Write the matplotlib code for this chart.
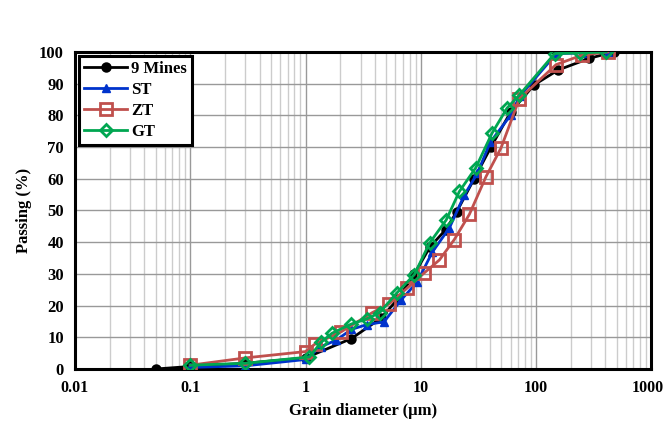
import matplotlib
matplotlib.use("Agg")
import matplotlib.pyplot as plt
import matplotlib.transforms as mtransforms
from matplotlib.ticker import LogLocator, FixedLocator, NullFormatter

plt.rcParams['font.family'] = ['Liberation Serif', 'DejaVu Serif']
plt.rcParams['font.weight'] = 'bold'

mines_x = [0.05, 0.1, 0.3, 1.0, 2.5, 4.5, 6.3, 8.8, 12, 16.5, 20.5, 29, 40.6, 60, 96, 155, 290, 470]
mines_y = [0, 0.8, 1.8, 3.5, 9.6, 16, 22, 30, 38.5, 44, 49.6, 60, 70, 81, 89.6, 94.3, 98, 100]

st_x = [0.1, 0.3, 1.0, 1.35, 1.85, 2.5, 3.4, 4.8, 6.75, 9.3, 12.6, 17.7, 23.9, 31, 40, 60, 72, 150, 250, 420]
st_y = [0.5, 1.0, 3.0, 7.0, 9.1, 12.5, 14.0, 14.9, 21.8, 27.4, 36.9, 44.5, 54.9, 61.8, 71.5, 80, 86, 99.5, 99.7, 100]

zt_x = [0.1, 0.3, 1.0, 1.2, 2.05, 3.8, 5.3, 7.6, 10.7, 14.5, 19.5, 26.4, 36.8, 49.6, 71.5, 149, 250, 420]
zt_y = [1.2, 3.5, 5.5, 7.8, 11.8, 17.8, 20.5, 25.5, 30.3, 34.4, 40.8, 48.8, 60.7, 69.7, 85.2, 96, 99, 100]

gt_x = [0.1, 0.3, 1.08, 1.37, 1.7, 2.5, 3.4, 4.4, 6.2, 8.8, 11.9, 16.6, 21.6, 30, 41.5, 56, 71.5, 145, 240, 405]
gt_y = [1.2, 1.8, 3.8, 8.5, 11.3, 14.2, 15.8, 17.8, 24, 29.8, 39.7, 47, 56, 63.5, 74.4, 82.3, 86.4, 99.5, 99.7, 100]

x_ticks = [0.01, 0.1, 1, 10, 100, 1000]
x_labels = ['0.01', '0.1', '1', '10', '100', '1000']
y_ticks = list(range(0, 101, 10))

fig = plt.figure(figsize=(6.66, 4.24), dpi=100)
ax = fig.add_axes([0.1126, 0.1297, 0.978 - 0.1126, 0.8774 - 0.1297])

ax.plot(mines_x, mines_y, color='black', lw=2, marker='o', ms=6, mfc='black', mec='black', mew=1.5, label='9 Mines', zorder=3)
ax.plot(st_x, st_y, color='#0033CC', lw=2, marker='^', ms=6, mfc='#0033CC', mec='#0033CC', label='ST', zorder=4)
ax.plot(zt_x, zt_y, color='#C0504D', lw=2, marker='s', ms=9, mfc='none', mec='#C0504D', mew=2, label='ZT', zorder=5)
ax.plot(gt_x, gt_y, color='#00A651', lw=2, marker='D', ms=6, mfc='none', mec='#00A651', mew=2, label='GT', zorder=6)

ax.set_xscale('log')
ax.set_xlim(0.01, 1000)
ax.set_ylim(0, 100)
ax.xaxis.set_major_locator(FixedLocator(x_ticks))
ax.set_xticklabels(x_labels)
ax.xaxis.set_minor_locator(LogLocator(base=10, subs=range(2, 10), numticks=20))
ax.xaxis.set_minor_formatter(NullFormatter())
ax.set_yticks(y_ticks)

ax.grid(which='major', axis='both', color='#999999', lw=1.0)
ax.grid(which='minor', axis='x', color='#CCCCCC', lw=1.0)
ax.set_axisbelow(True)

for s in ax.spines.values():
    s.set_linewidth(2.2)
    s.set_color('black')

ax.tick_params(which='both', length=0, pad=8)
ax.tick_params(axis='x', labelsize=11.5)
ax.tick_params(axis='y', labelsize=12)
for lab in ax.get_xticklabels() + ax.get_yticklabels():
    lab.set_fontweight('bold')

# nudge the last x label so it stays inside the canvas
last = ax.get_xticklabels()[-1]
last.set_transform(last.get_transform() + mtransforms.ScaledTranslation(-4/100, 0, fig.dpi_scale_trans))

ax.set_xlabel('Grain diameter (µm)', fontsize=12, fontweight='bold', labelpad=5)
ax.set_ylabel('Passing (%)', fontsize=12, fontweight='bold', labelpad=5)

leg = ax.legend(loc='upper left', fontsize=12, frameon=True, fancybox=False,
                borderaxespad=0.25, handlelength=2.6, labelspacing=0.3, borderpad=0.3, handletextpad=0.2)
leg.get_frame().set_edgecolor('black')
leg.get_frame().set_linewidth(2.2)
leg.get_frame().set_alpha(1)
for t in leg.get_texts():
    t.set_fontweight('bold')

fig.savefig('out.png', dpi=100)
